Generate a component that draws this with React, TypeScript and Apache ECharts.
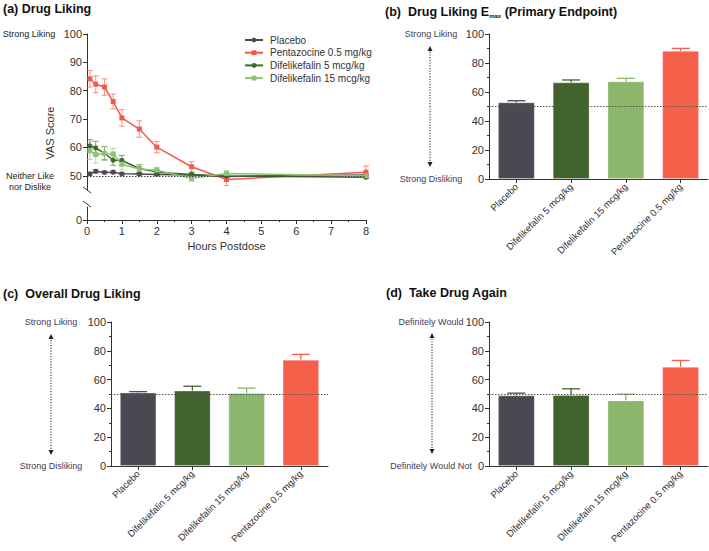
import React, { useEffect, useRef } from 'react';
import * as echarts from 'echarts';

// ---- Panel (a): time course ----
const hours = [0.083, 0.25, 0.5, 0.75, 1, 1.5, 2, 3, 4, 8];
const placeboTime = [50.7, 51.6, 51.2, 51.3, 50.7, 50.6, 50.5, 50.3, 49.8, 50.3];
const placeboTimeErr = [0.5, 0.6, 0.5, 0.6, 0.4, 0.4, 0.4, 0.4, 0.4, 0.4];
const pentTime = [84.2, 82.3, 81.3, 76.2, 70.4, 66.5, 60.1, 53.2, 48.7, 51.3];
const pentTimeErr = [2.9, 2.9, 2.9, 2.6, 2.9, 2.9, 2.0, 1.8, 2.1, 2.2];
const dif5Time = [60.5, 59.8, 58.0, 55.5, 55.4, 52.6, 51.3, 50.5, 49.9, 49.5];
const dif5TimeErr = [2.2, 2.4, 2.3, 1.8, 1.8, 1.3, 1.0, 0.5, 0.6, 0.5];
const dif15Time = [58.8, 57.5, 57.9, 57.7, 54.1, 52.4, 52.0, 49.1, 50.8, 50.0];
const dif15TimeErr = [3.0, 3.0, 2.5, 2.0, 2.0, 1.5, 1.0, 1.0, 1.0, 0.6];
const upperTicks = [50, 60, 70, 80, 90, 100];

// ---- Bar panels ----
const categories = ['Placebo', 'Difelikefalin 5 mcg/kg', 'Difelikefalin 15 mcg/kg', 'Pentazocine 0.5 mg/kg'];
const emax = [52.8, 66.6, 67.3, 88.3];
const emaxErr = [1.2, 1.7, 2.1, 1.8];
const overall = [51.0, 52.3, 50.6, 73.8];
const overallErr = [0.6, 3.1, 3.5, 3.7];
const takeAgain = [49.0, 49.2, 45.5, 68.9];
const takeAgainErr = [1.6, 4.4, 4.4, 4.4];

const FONT = "'Liberation Sans', Arial, Helvetica, sans-serif";
const AX = '#333333';
const LBL = '#3f3d56';
const C_PLA = '#4b4852';
const C_PENT = '#f6604b';
const C_D5 = '#41632c';
const C_D15 = '#8bb66c';
const barColors = [C_PLA, C_D5, C_D15, C_PENT];

const axisLine = { show: true, lineStyle: { color: AX, width: 1 } };

function errRenderTime(color: string) {
  return (params: any, api: any) => {
    const x = api.value(0), v = api.value(1), e = api.value(2);
    const t = api.coord([x, v + e]);
    const b = api.coord([x, v - e]);
    const w = 3;
    const st = { stroke: color, lineWidth: 1, opacity: 0.65 };
    return {
      type: 'group',
      children: [
        { type: 'line', shape: { x1: t[0], y1: t[1], x2: b[0], y2: b[1] }, style: st },
        { type: 'line', shape: { x1: t[0] - w, y1: t[1], x2: t[0] + w, y2: t[1] }, style: st },
        { type: 'line', shape: { x1: b[0] - w, y1: b[1], x2: b[0] + w, y2: b[1] }, style: st },
      ],
    };
  };
}

function errRenderBar(params: any, api: any) {
  const x = api.value(0), v = api.value(1), e = api.value(2);
  const t = api.coord([x, v + e]);
  const b = api.coord([x, v]);
  const w = 9;
  const st = { stroke: barColors[params.dataIndex], lineWidth: 1.3 };
  return {
    type: 'group',
    children: [
      { type: 'line', shape: { x1: t[0], y1: t[1], x2: b[0], y2: b[1] }, style: st },
      { type: 'line', shape: { x1: t[0] - w, y1: t[1], x2: t[0] + w, y2: t[1] }, style: st },
    ],
  };
}

function timeSeries(name: string, vals: number[], errs: number[], color: string, symbol: string) {
  return [
    {
      type: 'custom',
      name: name + ' err',
      xAxisIndex: 0,
      yAxisIndex: 0,
      renderItem: errRenderTime(color),
      data: hours.map((h, i) => [h, vals[i], errs[i]]),
      encode: { x: 0, y: 1 },
      z: 2,
      silent: true,
    },
    {
      type: 'line',
      name,
      xAxisIndex: 0,
      yAxisIndex: 0,
      data: hours.map((h, i) => [h, vals[i]]),
      symbol,
      symbolSize: 5,
      itemStyle: { color },
      lineStyle: { color, width: 1.5 },
      z: 3,
    },
  ];
}

function barPanel(idx: number, vals: number[], errs: number[]) {
  return [
    {
      type: 'bar',
      xAxisIndex: idx,
      yAxisIndex: idx,
      barWidth: '67%',
      data: vals.map((v, i) => ({ value: v, itemStyle: { color: barColors[i], borderColor: 'rgba(255,255,255,0.35)', borderWidth: 0.8 } })),
      z: 3,
      silent: true,
    },
    {
      type: 'custom',
      xAxisIndex: idx,
      yAxisIndex: idx,
      renderItem: errRenderBar,
      data: vals.map((v, i) => [i, v, errs[i]]),
      encode: { x: 0, y: 1 },
      z: 1,
      silent: true,
      markLine: {
        silent: true,
        symbol: 'none',
        label: { show: false },
        lineStyle: { color: '#555', type: [1.5, 1.5], width: 1.2 },
        data: [{ yAxis: 50 }],
      },
    },
  ];
}

function barXAxis(gridIndex: number) {
  return {
    gridIndex,
    type: 'category',
    data: categories,
    axisLine,
    axisTick: { show: true, alignWithLabel: true, length: 4, lineStyle: { color: AX } },
    axisLabel: { rotate: 45, fontSize: 9.5, color: '#333', margin: 6, interval: 0 },
  };
}

function barYAxis(gridIndex: number) {
  return {
    gridIndex,
    type: 'value',
    min: 0,
    max: 100,
    interval: 20,
    axisLine,
    axisTick: { show: true, length: 4, lineStyle: { color: AX } },
    minorTick: { show: true, splitNumber: 2, length: 2, lineStyle: { color: AX } },
    splitLine: { show: false },
    minorSplitLine: { show: false },
    axisLabel: { fontSize: 11, color: '#333', margin: 5 },
  };
}

function arrow(x: number, y1: number, y2: number) {
  const s = { fill: '#222' };
  return [
    { type: 'line', shape: { x1: x, y1: y1 + 3, x2: x, y2: y2 - 3 }, style: { stroke: '#444', lineWidth: 1.2, lineDash: [1.2, 1.5] } },
    { type: 'polygon', shape: { points: [[x, y1], [x - 2.5, y1 + 5], [x + 2.5, y1 + 5]] }, style: s },
    { type: 'polygon', shape: { points: [[x, y2], [x - 2.5, y2 - 5], [x + 2.5, y2 - 5]] }, style: s },
  ];
}

function txt(text: string, x: number, y: number, opts: any = {}) {
  return {
    type: 'text',
    x,
    y,
    style: {
      text,
      font: opts.font || `9px ${FONT}`,
      fill: opts.fill || LBL,
      align: opts.align || 'center',
      verticalAlign: 'middle',
    },
    rotation: opts.rotation || 0,
  };
}

const titleFont = `bold 12.5px ${FONT}`;

const option: any = {
  animation: false,
  textStyle: { fontFamily: FONT },
  grid: [
    { left: 87, top: 34, width: 279, height: 156 },
    { left: 87, top: 207, width: 279, height: 13 },
    { left: 489, top: 34, width: 219, height: 145 },
    { left: 111, top: 322, width: 217, height: 144 },
    { left: 489, top: 322, width: 219, height: 144 },
  ],
  legend: {
    orient: 'vertical',
    left: 244,
    top: 35,
    padding: 0,
    itemWidth: 18,
    itemHeight: 6,
    itemGap: 2.7,
    data: ['Placebo', 'Pentazocine 0.5 mg/kg', 'Difelikefalin 5 mcg/kg', 'Difelikefalin 15 mcg/kg'],
    textStyle: { fontSize: 10, color: '#333', lineHeight: 10, padding: [0, 0, 0, 2] },
    selectedMode: false,
  },
  xAxis: [
    { gridIndex: 0, type: 'value', min: 0, max: 8, show: false },
    {
      gridIndex: 1,
      type: 'value',
      min: 0,
      max: 8,
      interval: 1,
      axisLine,
      axisTick: { show: true, length: 4, lineStyle: { color: AX } },
      minorTick: { show: true, splitNumber: 2, length: 2, lineStyle: { color: AX } },
      splitLine: { show: false },
      minorSplitLine: { show: false },
      axisLabel: { fontSize: 11, color: '#333', margin: 5 },
      name: 'Hours Postdose',
      nameLocation: 'middle',
      nameGap: 20,
      nameTextStyle: { fontSize: 11, color: '#333' },
    },
    barXAxis(2),
    barXAxis(3),
    barXAxis(4),
  ],
  yAxis: [
    {
      gridIndex: 0,
      type: 'value',
      min: 45,
      max: 100,
      axisLine,
      axisTick: { show: true, length: 4, lineStyle: { color: AX }, customValues: upperTicks },
      axisLabel: { fontSize: 11, color: '#333', margin: 5, customValues: upperTicks },
      splitLine: { show: false },
    },
    {
      gridIndex: 1,
      type: 'value',
      min: 0,
      max: 4.6,
      axisLine,
      axisTick: { show: true, length: 4, lineStyle: { color: AX }, customValues: [0] },
      axisLabel: { fontSize: 11, color: '#333', margin: 5, customValues: [0] },
      splitLine: { show: false },
    },
    barYAxis(2),
    barYAxis(3),
    barYAxis(4),
  ],
  series: [
    {
      type: 'line',
      name: 'ref50',
      xAxisIndex: 0,
      yAxisIndex: 0,
      data: [],
      markLine: {
        silent: true,
        symbol: 'none',
        label: { show: false },
        lineStyle: { color: '#444', type: [1.5, 1.5], width: 1.2 },
        data: [{ yAxis: 50 }],
      },
      z: 1,
    },
    ...timeSeries('Placebo', placeboTime, placeboTimeErr, C_PLA, 'circle'),
    ...timeSeries('Pentazocine 0.5 mg/kg', pentTime, pentTimeErr, '#f5594b', 'rect'),
    ...timeSeries('Difelikefalin 5 mcg/kg', dif5Time, dif5TimeErr, '#3d6a2c', 'circle'),
    ...timeSeries('Difelikefalin 15 mcg/kg', dif15Time, dif15TimeErr, '#8cc46f', 'rect'),
    ...barPanel(2, emax, emaxErr),
    ...barPanel(3, overall, overallErr),
    ...barPanel(4, takeAgain, takeAgainErr),
  ],
  graphic: [
    // titles
    txt('(a) Drug Liking', 3, 9, { font: titleFont, fill: '#111', align: 'left' }),
    {
      type: 'text',
      x: 385,
      y: 12,
      style: {
        text: '{b|(b)  Drug Liking E}{s|max}{b| (Primary Endpoint)}',
        align: 'left',
        verticalAlign: 'middle',
        rich: {
          b: { font: titleFont, fill: '#111' },
          s: { font: `bold 6px ${FONT}`, fill: '#111', padding: [7, 0, 0, 0] },
        },
      },
    },
    txt('(c)  Overall Drug Liking', 3, 294, { font: titleFont, fill: '#111', align: 'left' }),
    txt('(d)  Take Drug Again', 386, 293, { font: titleFont, fill: '#111', align: 'left' }),
    // panel (a) side labels
    txt('Strong Liking', 29, 34, { fill: '#222', font: `9px ${FONT}` }),
    txt('Neither Like', 30, 175.5, { fill: '#222', font: `9px ${FONT}` }),
    txt('nor Dislike', 30, 187, { fill: '#222', font: `9px ${FONT}` }),
    txt('VAS Score', 50, 133, { fill: '#333', font: `11px ${FONT}`, rotation: Math.PI / 2 }),
    // axis break marks
    { type: 'line', shape: { x1: 83, y1: 187, x2: 91, y2: 193 }, style: { stroke: AX, lineWidth: 1 } },
    { type: 'line', shape: { x1: 83, y1: 201, x2: 91, y2: 207 }, style: { stroke: AX, lineWidth: 1 } },
    // panel (b)
    txt('Strong Liking', 431, 34),
    txt('Strong Disliking', 431, 179),
    ...arrow(430, 46, 167),
    // panel (c)
    txt('Strong Liking', 51, 322),
    txt('Strong Disliking', 51, 466),
    ...arrow(51, 334, 455),
    // panel (d)
    txt('Definitely Would', 431, 322),
    txt('Definitely Would Not', 431, 466),
    ...arrow(432, 333, 454),
  ],
};

export default function App() {
  const ref = useRef<HTMLDivElement>(null);
  useEffect(() => {
    if (!ref.current) return;
    const chart = echarts.init(ref.current, null, { renderer: 'svg' });
    chart.setOption(option);
    return () => chart.dispose();
  }, []);
  return (
    <div
      ref={ref}
      style={{ position: 'absolute', left: 0, top: 0, width: 709, height: 551, background: '#fff' }}
    />
  );
}
